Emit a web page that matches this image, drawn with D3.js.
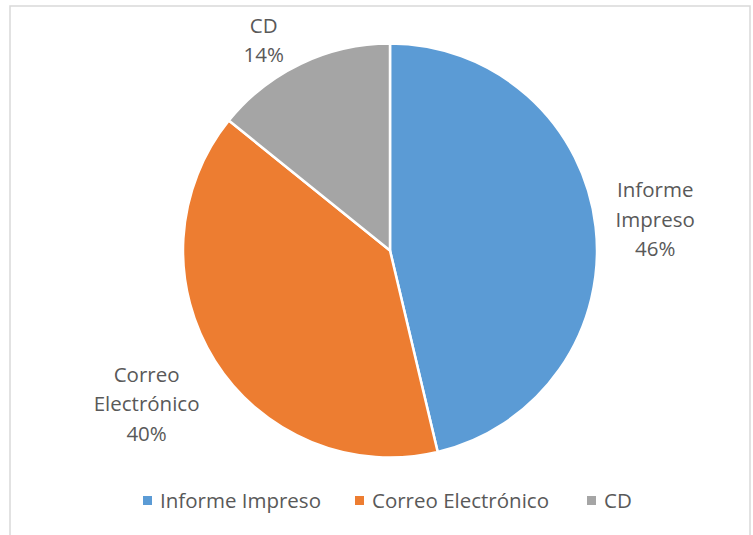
<!DOCTYPE html>
<html>
<head>
<meta charset="utf-8">
<script src="https://cdn.jsdelivr.net/npm/d3@7"></script>
<style>
  body { margin: 0; background: #fff; }
  text { font-family: "Open Sans", sans-serif; fill: #595959; }
</style>
</head>
<body>
<script>
const categories = ['Informe Impreso', 'Correo Electrónico', 'CD'];
const values = [46.3, 39.5, 14.2];
const colors = ['#5B9BD5', '#ED7D31', '#A5A5A5'];
// label text lines, split the way the chart wraps them
const labelLines = [['Informe', 'Impreso'], ['Correo', 'Electrónico'], ['CD']];

const width = 753;
const height = 535;
const cx = 390, cy = 250.5, radius = 207;

const svg = d3.select('body')
    .append('svg')
    .attr('width', width)
    .attr('height', height);

svg.append('rect')
    .attr('x', 10).attr('y', 6)
    .attr('width', 740).attr('height', 560)
    .attr('fill', '#fff')
    .attr('stroke', '#d9d9d9')
    .attr('stroke-width', 1.5);

const total = d3.sum(values);
const data = categories.map((c, i) => ({ name: c, value: values[i], color: colors[i], lines: labelLines[i] }));

const pie = d3.pie().sort(null).value(d => d.value);
const arc = d3.arc().innerRadius(0).outerRadius(radius);
const arcs = pie(data);

const g = svg.append('g').attr('transform', `translate(${cx},${cy})`);

g.selectAll('path')
    .data(arcs)
    .enter()
    .append('path')
    .attr('d', arc)
    .attr('fill', d => d.data.color)
    .attr('stroke', '#fff')
    .attr('stroke-width', 2.5)
    .attr('stroke-linejoin', 'round');

// outside-end labels: radius factor + small nudge per slice
const labelR = [1.29, 1.39, 1.19];
const nudge = [[0, 0], [0, 0], [-20, 12]];
const lineH = 29.5;
const fontSize = 20.5;

arcs.forEach((a, i) => {
    const mid = (a.startAngle + a.endAngle) / 2;
    const r = radius * labelR[i];
    const x = Math.sin(mid) * r + nudge[i][0];
    const y = -Math.cos(mid) * r + nudge[i][1];
    const lines = a.data.lines.concat([Math.round(a.data.value / total * 100) + '%']);
    const t = g.append('text')
        .attr('text-anchor', 'middle')
        .attr('font-size', fontSize);
    lines.forEach((l, k) => {
        t.append('tspan')
            .attr('x', x)
            .attr('y', y + (k - (lines.length - 1) / 2) * lineH + fontSize * 0.36)
            .text(l);
    });
});

// legend
const legend = svg.append('g').attr('transform', 'translate(0, 500.5)');
const legendX = [143, 355, 587];
categories.forEach((c, i) => {
    legend.append('rect')
        .attr('x', legendX[i]).attr('y', -4.5)
        .attr('width', 9).attr('height', 9)
        .attr('fill', colors[i]);
    legend.append('text')
        .attr('x', legendX[i] + 17)
        .attr('y', 7.5)
        .attr('font-size', fontSize)
        .text(c);
});
</script>
</body>
</html>
